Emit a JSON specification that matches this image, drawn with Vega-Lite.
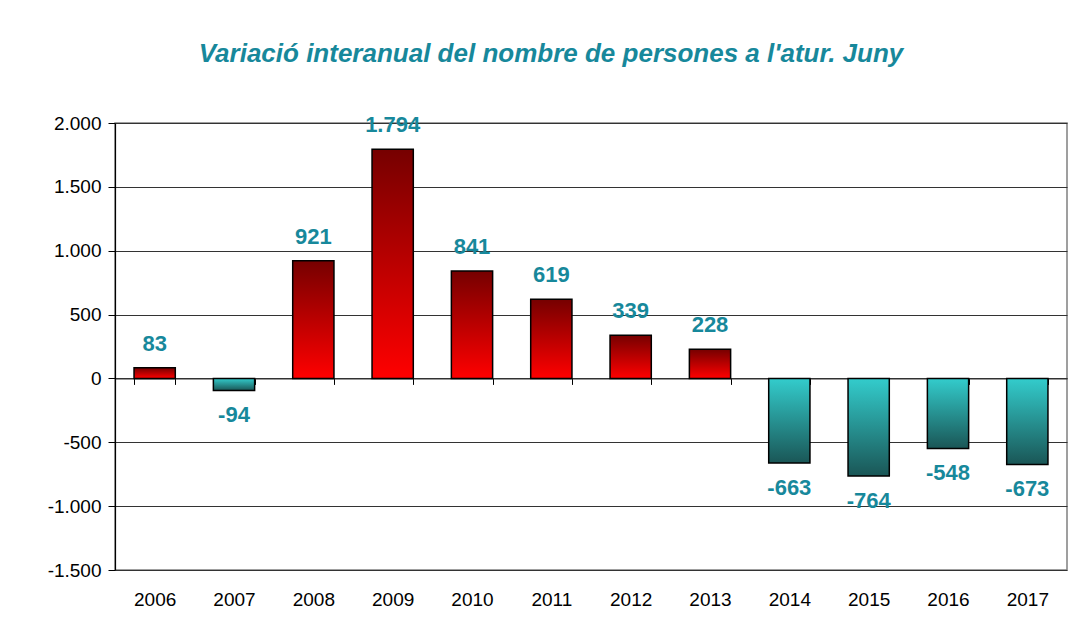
{
  "$schema": "https://vega.github.io/schema/vega-lite/v6.json",
  "width": 952,
  "height": 447,
  "autosize": {"type": "none"},
  "padding": {"left": 115, "top": 123, "right": 11, "bottom": 52},
  "background": "white",
  "config": {
    "font": "Liberation Sans",
    "view": {"stroke": "#808080", "strokeWidth": 1.5},
    "locale": {"number": {"decimal": ",", "thousands": ".", "grouping": [3], "currency": ["", " €"], "minus": "-"}}
  },
  "title": {
    "text": "Variació interanual del nombre de persones a l'atur. Juny",
    "font": "Liberation Sans",
    "fontSize": 26,
    "fontWeight": "bold",
    "fontStyle": "italic",
    "color": "#17889b",
    "anchor": "middle",
    "dx": -40,
    "offset": 47
  },
  "data": {
    "values": [
      {"year": "2006", "value": 83},
      {"year": "2007", "value": -94},
      {"year": "2008", "value": 921},
      {"year": "2009", "value": 1794},
      {"year": "2010", "value": 841},
      {"year": "2011", "value": 619},
      {"year": "2012", "value": 339},
      {"year": "2013", "value": 228},
      {"year": "2014", "value": -663},
      {"year": "2015", "value": -764},
      {"year": "2016", "value": -548},
      {"year": "2017", "value": -673}
    ]
  },
  "encoding": {
    "x": {
      "field": "year",
      "type": "ordinal",
      "scale": {"paddingInner": 0.48, "paddingOuter": 0.24},
      "axis": {
        "title": null,
        "labelAngle": 0,
        "labelFontSize": 19,
        "labelColor": "#000000",
        "offset": -191.6,
        "domainColor": "#333333",
        "domainWidth": 1.2,
        "tickBand": "extent",
        "tickSize": 6,
        "tickColor": "#000000",
        "labelPadding": 206,
        "grid": false
      }
    },
    "y": {
      "field": "value",
      "type": "quantitative",
      "scale": {"domain": [-1500, 2000], "nice": false, "zero": false},
      "axis": {
        "title": null,
        "values": [-1500, -1000, -500, 0, 500, 1000, 1500, 2000],
        "format": ",d",
        "labelFontSize": 19,
        "labelColor": "#000000",
        "tickSize": 7,
        "tickColor": "#000000",
        "labelPadding": 7,
        "domainColor": "#000000",
        "domainWidth": 1.2,
        "grid": true,
        "gridColor": "#333333",
        "gridWidth": 1
      }
    }
  },
  "layer": [
    {
      "transform": [{"filter": "datum.value >= 0"}],
      "mark": {
        "type": "bar",
        "stroke": "#000000",
        "strokeWidth": 1.5,
        "fill": {
          "gradient": "linear",
          "x1": 0, "y1": 0, "x2": 0, "y2": 1,
          "stops": [
            {"offset": 0, "color": "#760000"},
            {"offset": 1, "color": "#ff0000"}
          ]
        }
      }
    },
    {
      "transform": [{"filter": "datum.value < 0"}],
      "mark": {
        "type": "bar",
        "stroke": "#000000",
        "strokeWidth": 1.5,
        "fill": {
          "gradient": "linear",
          "x1": 0, "y1": 0, "x2": 0, "y2": 1,
          "stops": [
            {"offset": 0, "color": "#33cccc"},
            {"offset": 1, "color": "#1a5656"}
          ]
        }
      }
    },
    {
      "transform": [{"filter": "datum.value >= 0"}],
      "mark": {"type": "text", "baseline": "middle", "dy": -24, "fontSize": 22, "fontWeight": "bold", "color": "#17889b"},
      "encoding": {"text": {"field": "value", "type": "quantitative", "format": ",d"}}
    },
    {
      "transform": [{"filter": "datum.value < 0"}],
      "mark": {"type": "text", "baseline": "middle", "dy": 25, "fontSize": 22, "fontWeight": "bold", "color": "#17889b"},
      "encoding": {"text": {"field": "value", "type": "quantitative", "format": ",d"}}
    }
  ]
}
